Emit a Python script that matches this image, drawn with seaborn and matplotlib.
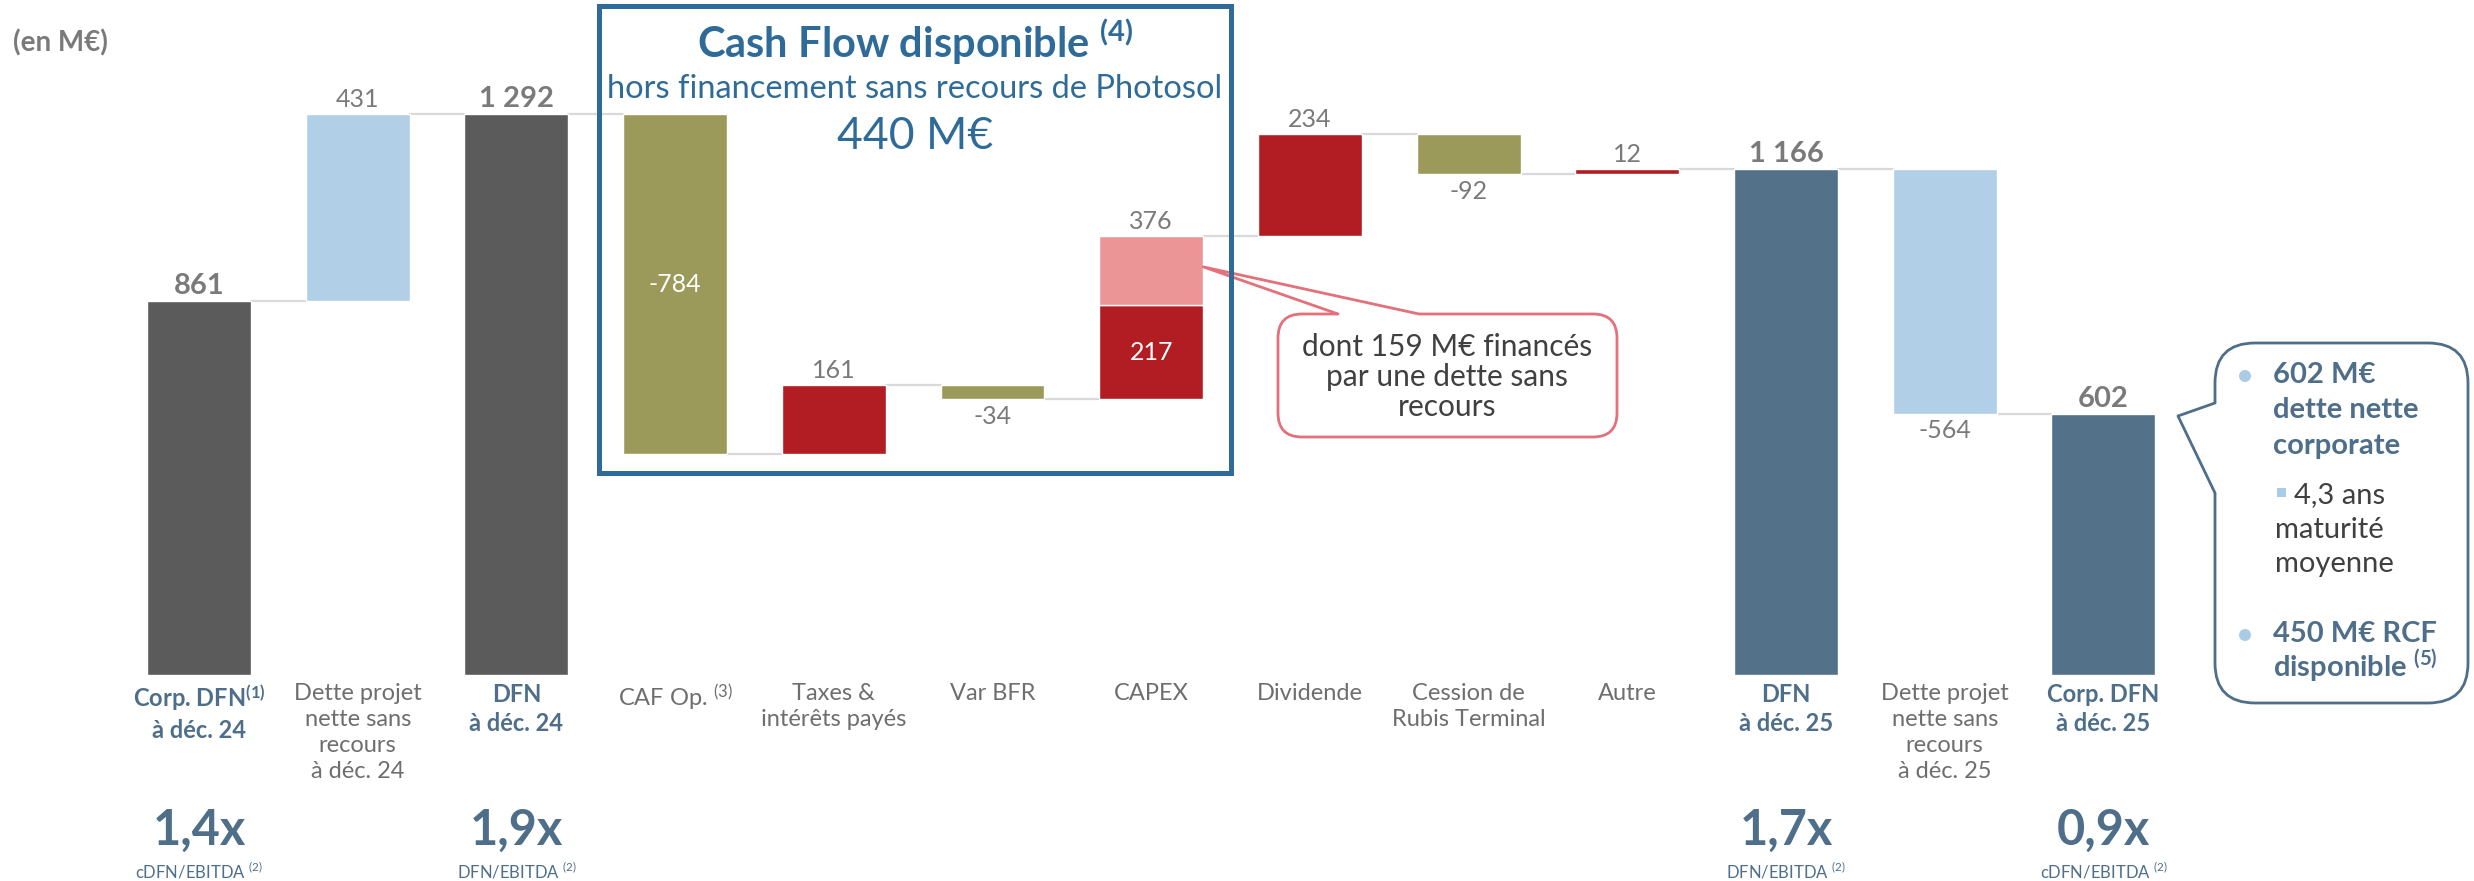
import numpy as np
import pandas as pd
import matplotlib
matplotlib.use("Agg")
import matplotlib.pyplot as plt
import seaborn as sns
from matplotlib.patches import FancyBboxPatch, Rectangle, Polygon, Circle
from matplotlib.transforms import blended_transform_factory

# ------------------------------
# Data (en M€)
# ------------------------------
steps = ["corp24", "projet24", "dfn24", "caf", "taxes", "bfr", "capex",
         "dividende", "cession", "autre", "dfn25", "projet25", "corp25"]
kinds = ["total", "delta", "total", "delta", "delta", "delta", "delta",
         "delta", "delta", "delta", "total", "delta", "total"]
values = [861, 431, 1292, -784, 161, -34, 376, 234, -92, 12, 1166, -564, 602]
capex_parts = [217, 159]   # corporate / financé par dette sans recours

step_labels = [r"Corp. DFN$^{\mathbf{(1)}}$" + "\nà déc. 24",
               "Dette projet\nnette sans\nrecours\nà déc. 24",
               "DFN\nà déc. 24", r"CAF Op. $^{(3)}$", "Taxes &\nintérêts payés", "Var BFR",
               "CAPEX", "Dividende", "Cession de\nRubis Terminal", "Autre",
               "DFN\nà déc. 25", "Dette projet\nnette sans\nrecours\nà déc. 25",
               "Corp. DFN\nà déc. 25"]
value_texts = ["861", "431", "1 292", "-784", "161", "-34", "376", "234", "-92", "12",
               "1 166", "-564", "602"]

mult_steps = ["corp24", "dfn24", "dfn25", "corp25"]
mult_values = ["1,4x", "1,9x", "1,7x", "0,9x"]
mult_names = [r"cDFN/EBITDA $^{(2)}$", r"DFN/EBITDA $^{(2)}$", r"DFN/EBITDA $^{(2)}$",
              r"cDFN/EBITDA $^{(2)}$"]

# ------------------------------
# Styles
# ------------------------------
GRAY = "#5B5B5B"
LBLUE = "#B1CFE6"
OLIVE = "#9B9A5B"
RED = "#B11D23"
PINK = "#EC9596"
STEEL = "#537289"
TXT_BLUE = "#4E6E89"
TXT_GRAY = "#7A7A7A"
BOX_BLUE = "#2F6B99"
CALL_RED = "#E4707A"
BULLET = "#A9CBE6"

bar_colors = [GRAY, LBLUE, GRAY, OLIVE, RED, OLIVE, RED, RED, OLIVE, RED, STEEL, LBLUE, STEEL]
label_pos = ["above", "above", "above", "inside", "above", "below", "above",
             "above", "below", "above", "above", "below", "above"]
W = 0.655

sns.set_theme(style="white")
plt.rcParams["font.family"] = ["Lato", "DejaVu Sans"]
plt.rcParams["mathtext.fontset"] = "custom"
plt.rcParams["mathtext.rm"] = "Lato"
plt.rcParams["mathtext.it"] = "Lato:italic"
plt.rcParams["mathtext.bf"] = "Lato:bold"

# waterfall levels
level = 0
bottoms, tops, ends = [], [], []
for k, v in zip(kinds, values):
    if k == "total":
        b, t = 0, v
        level = v
    else:
        start = level
        level = level + v
        b, t = min(start, level), max(start, level)
    bottoms.append(b)
    tops.append(t)
    ends.append(level)

fig = plt.figure(figsize=(24.74, 8.81), dpi=100)
ax = fig.add_axes([0, 0, 1, 1])

df_tot = pd.DataFrame({"step": [s for s, k in zip(steps, kinds) if k == "total"],
                       "value": [v for v, k in zip(values, kinds) if k == "total"]})
pal = {s: c for s, c, k in zip(steps, bar_colors, kinds) if k == "total"}
sns.barplot(data=df_tot, x="step", y="value", order=steps, hue="step", palette=pal,
            legend=False, width=W, saturation=1, ax=ax, zorder=3)

for i, k in enumerate(kinds):
    if k != "delta":
        continue
    if steps[i] == "capex":
        ax.bar(i, capex_parts[0], bottom=bottoms[i], width=W, color=RED, zorder=3)
        ax.bar(i, capex_parts[1], bottom=bottoms[i] + capex_parts[0], width=W, color=PINK, zorder=3)
    else:
        ax.bar(i, tops[i] - bottoms[i], bottom=bottoms[i], width=W, color=bar_colors[i], zorder=3)

# connectors
for i in range(len(steps) - 1):
    ax.plot([i + W / 2, i + 1 - W / 2], [ends[i], ends[i]], color="#D9D9D9", lw=1.6, zorder=2)

ax.set_xlim(-1.254, 14.335)
ax.set_ylim(-474.4, 1554.6)
ax.axis("off")

# value labels
for i, txt in enumerate(value_texts):
    bold = kinds[i] == "total"
    fs = 21 if bold else 18
    if label_pos[i] == "above":
        ax.annotate(txt, (i, tops[i]), xytext=(0, 5), textcoords="offset points",
                    ha="center", va="baseline", fontsize=fs,
                    fontweight="bold" if bold else "normal", color=TXT_GRAY, zorder=6)
    elif label_pos[i] == "below":
        ax.annotate(txt, (i, bottoms[i]), xytext=(0, -4), textcoords="offset points",
                    ha="center", va="top", fontsize=fs, color=TXT_GRAY, zorder=6)
    else:
        ax.text(i, (tops[i] + bottoms[i]) / 2, txt, ha="center", va="center",
                fontsize=fs, color="white", zorder=6)
ci = steps.index("capex")
ax.text(ci, bottoms[ci] + capex_parts[0] / 2, str(capex_parts[0]), ha="center", va="center",
        fontsize=18, color="white", zorder=6)

# overlay in pixel coordinates (y from top)
ax2 = fig.add_axes([0, 0, 1, 1])
ax2.set_xlim(0, 2474)
ax2.set_ylim(881, 0)
ax2.axis("off")


def to_px(x, y):
    d = ax.transData.transform((x, y))
    return d[0], 881 - d[1]


tr = blended_transform_factory(ax.transData, ax2.transData)

# category labels
for i, lab in enumerate(step_labels):
    bold = kinds[i] == "total"
    ax.text(i, 683, lab, transform=tr, ha="center", va="top", linespacing=1.3,
            fontsize=17, fontweight="bold" if bold else "normal",
            color=TXT_BLUE if bold else "#6E6E6E")

# multiples
for s, mv, mn in zip(mult_steps, mult_values, mult_names):
    i = steps.index(s)
    ax.text(i, 830, mv, transform=tr, ha="center", va="center", fontsize=35,
            fontweight="bold", color=TXT_BLUE)
    ax.text(i, 871, mn, transform=tr, ha="center", va="center", fontsize=12, color=TXT_BLUE)

# unit
ax2.text(13, 43, "(en M€)", ha="left", va="center", fontsize=20, fontweight="bold", color=TXT_GRAY)

# cash flow box
ax2.add_patch(Rectangle((599, 6), 632, 467, fill=False, ec=BOX_BLUE, lw=3.6, zorder=8))
ax2.text(915, 58, r"Cash Flow disponible $^{\mathbf{(4)}}$", ha="center", va="baseline",
         fontsize=30, fontweight="bold", color=BOX_BLUE)
ax2.text(915, 98, "hors financement sans recours de Photosol", ha="center", va="baseline",
         fontsize=23.5, color=BOX_BLUE)
ax2.text(915, 149, "440 M€", ha="center", va="baseline", fontsize=32, color=BOX_BLUE)

# CAPEX callout
tip = to_px(ci + W / 2, 940)
b1, b2, ytop = 1338, 1419, 314
ax2.add_patch(FancyBboxPatch((1278, ytop), 339, 123, boxstyle="round,pad=0,rounding_size=24",
                             fc="white", ec=CALL_RED, lw=2, zorder=4))
ax2.add_patch(Polygon([tip, (b1, ytop - 3), (b1, ytop + 3), (b2, ytop + 3), (b2, ytop - 3)],
                      closed=True, fc="white", ec="none", zorder=5))
ax2.plot([b1, tip[0], b2], [ytop, tip[1], ytop], color=CALL_RED, lw=2, zorder=6)
ax2.text(1447, 377, "dont 159 M€ financés\npar une dette sans\nrecours", ha="center",
         va="center", fontsize=21.5, color="#404040", linespacing=1.1, zorder=7)

# right callout
tip2 = (2178, 416)
c1, c2, xl = 403, 493, 2215
ax2.add_patch(FancyBboxPatch((xl, 343), 253, 360, boxstyle="round,pad=0,rounding_size=40",
                             fc="white", ec=TXT_BLUE, lw=2, zorder=4))
ax2.add_patch(Polygon([tip2, (xl - 3, c1), (xl + 3, c1), (xl + 3, c2), (xl - 3, c2)],
                      closed=True, fc="white", ec="none", zorder=5))
ax2.plot([xl, tip2[0], xl], [c1, tip2[1], c2], color=TXT_BLUE, lw=2, zorder=6)

for y in (376, 635):
    ax2.add_patch(Circle((2245, y), 6, fc=BULLET, ec="none", zorder=7))
for y, t in zip((383, 418, 454), ("602 M€", "dette nette", "corporate")):
    ax2.text(2273, y, t, ha="left", va="baseline", fontsize=21, fontweight="bold",
             color=TXT_BLUE, zorder=7)
ax2.add_patch(Rectangle((2277, 488), 9, 9, fc=BULLET, ec="none", zorder=7))
ax2.text(2294, 503, "4,3 ans", ha="left", va="baseline", fontsize=21, color="#404040", zorder=7)
ax2.text(2275, 538, "maturité", ha="left", va="baseline", fontsize=21, color="#404040", zorder=7)
ax2.text(2275, 572, "moyenne", ha="left", va="baseline", fontsize=21, color="#404040", zorder=7)
ax2.text(2273, 642, "450 M€ RCF", ha="left", va="baseline", fontsize=21, fontweight="bold",
         color=TXT_BLUE, zorder=7)
ax2.text(2273, 677, r"disponible $^{\mathbf{(5)}}$", ha="left", va="baseline", fontsize=21,
         fontweight="bold", color=TXT_BLUE, zorder=7)

fig.savefig("out.png", dpi=100)
